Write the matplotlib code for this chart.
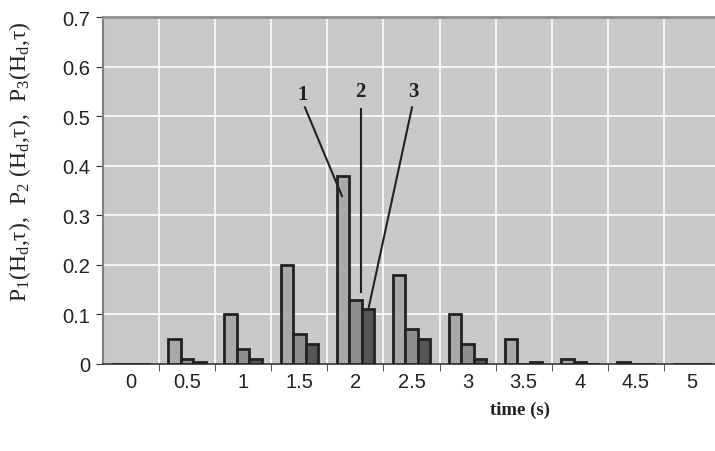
import numpy as np
import matplotlib.pyplot as plt

plt.rcParams['mathtext.fontset'] = 'custom'
plt.rcParams['mathtext.rm'] = 'Liberation Serif'
plt.rcParams['mathtext.it'] = 'Liberation Serif'

times = ['0', '0.5', '1', '1.5', '2', '2.5', '3', '3.5', '4', '4.5', '5']
p1 = [0, 0.05, 0.10, 0.20, 0.38, 0.18, 0.10, 0.05, 0.01, 0.005, 0]
p2 = [0, 0.01, 0.03, 0.06, 0.13, 0.07, 0.04, 0.0, 0.005, 0, 0]
p3 = [0, 0.005, 0.01, 0.04, 0.11, 0.05, 0.01, 0.005, 0, 0, 0]

fig = plt.figure(figsize=(7.15, 4.52), dpi=100)
ax = fig.add_axes([0.144, 0.1925, 0.863, 0.7675])
ax.set_facecolor('#c9c9cb')

x = np.arange(len(times))
w = 0.223
bk = dict(edgecolor='#222222', linewidth=2.0, zorder=3)
ax.bar(x - w, p1, w, color='#a9a9a9', **bk)
ax.bar(x, p2, w, color='#8e8e8e', **bk)
ax.bar(x + w, p3, w, color='#555555', **bk)

ax.set_xlim(-0.5, len(times) - 0.5)
ax.set_ylim(0, 0.7)
ax.set_yticks(np.arange(0, 0.71, 0.1))
ax.set_yticklabels(['0', '0.1', '0.2', '0.3', '0.4', '0.5', '0.6', '0.7'])
ax.set_xticks(x)
ax.set_xticklabels(times)
ax.set_xticks(np.arange(0.5, len(times) - 0.5), minor=True)
ax.tick_params(axis='x', which='major', length=0, pad=6)
ax.tick_params(axis='x', which='minor', length=5, color='#333333')
ax.tick_params(axis='y', length=5, color='#333333', pad=4)
ax.tick_params(labelsize=14.5, labelcolor='#222222')
for t in ax.get_xticklabels() + ax.get_yticklabels():
    t.set_fontfamily('Liberation Sans')

ax.grid(True, axis='y', color='white', linewidth=1.2, zorder=0)
ax.grid(True, axis='x', which='minor', color='white', linewidth=1.2, zorder=0)
ax.set_axisbelow(True)

ax.spines['right'].set_visible(False)
ax.spines['top'].set_color('#8f8f8f')
ax.spines['top'].set_linewidth(2)
ax.spines['left'].set_color('#808080')
ax.spines['left'].set_linewidth(1.5)
ax.spines['bottom'].set_color('#333333')
ax.spines['bottom'].set_linewidth(1.2)

ax.set_ylabel(r'P$_1$(H$_\mathrm{d}$,$\tau$),  P$_2$ (H$_\mathrm{d}$,$\tau$),  P$_3$(H$_\mathrm{d}$,$\tau$)',
              fontsize=17, fontfamily='Liberation Serif', color='#222222',
              va='center', ha='center')
ax.yaxis.set_label_coords(-0.134, 0.585)
fig.text(0.727, 0.093, 'time (s)', fontsize=13.5, fontweight='bold',
         fontfamily='Liberation Serif', ha='center', va='center', color='#222222')

# callout labels
lk = dict(color='#222222', linewidth=1.5, zorder=4)
tk = dict(fontsize=15, fontweight='bold', fontfamily='Liberation Serif',
          ha='center', va='center', color='#222222')
ax.text(3.05, 0.545, '1', **tk)
ax.plot([3.10, 3.76], [0.518, 0.339], **lk)
ax.text(4.08, 0.551, '2', **tk)
ax.plot([4.10, 4.10], [0.514, 0.145], **lk)
ax.text(5.04, 0.551, '3', **tk)
ax.plot([5.01, 4.24], [0.518, 0.115], **lk)

fig.savefig('out.png', dpi=100)
